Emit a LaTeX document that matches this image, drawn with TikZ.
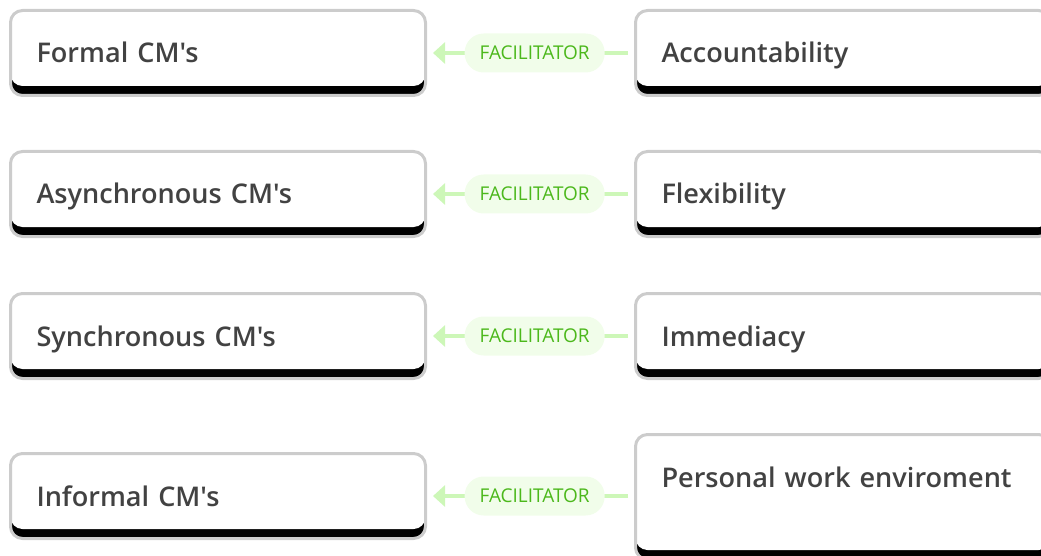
\documentclass[tikz,border=0pt]{standalone}
\usepackage{fontspec}
\setmainfont{Open Sans}
% semibold face for the card titles, with straight apostrophes
\IfFontExistsTF{Open Sans Semibold}
  {\newfontfamily\cardfont{Open Sans Semibold}}
  {\IfFontExistsTF{Fira Sans SemiBold}
    {\newfontfamily\cardfont{Fira Sans SemiBold}}
    {\newfontfamily\cardfontbase{Open Sans}\def\cardfont{\cardfontbase\bfseries}}}
\usetikzlibrary{arrows.meta}

\definecolor{cardborder}{HTML}{CCCCCC}
\definecolor{cardtext}{HTML}{424242}
\definecolor{linkline}{HTML}{CDF7B8}
\definecolor{pillfill}{HTML}{F1FDEA}
\definecolor{pilltext}{HTML}{4CB81C}

\tikzset{
  card/.style={
    draw=cardborder, line width=3pt, rounded corners=12pt,
    fill=black,
    minimum width=415pt, minimum height=85pt,
    text width=363pt, align=left, inner xsep=26pt, inner ysep=0pt,
    text height=26pt, text depth=6pt,
    text=cardtext, font=\cardfont\fontsize{27.1}{38}\selectfont,
    path picture={
      \fill[white] (path picture bounding box.north west)
        rectangle ([yshift=9.5pt]path picture bounding box.south east);
    }
  },
  % taller card whose title sits in its upper part
  tallcard/.style={card, minimum height=125pt, text depth=46pt},
  link/.style={
    draw=linkline, line width=4pt,
    -{Triangle[length=12pt,width=21pt]},
    shorten <=6pt, shorten >=6pt
  },
  pill/.style={
    fill=pillfill, rounded corners=19pt, draw=none,
    minimum height=39pt, minimum width=140pt, inner sep=0pt,
    text=pilltext, font=\fontsize{19}{22}\selectfont
  }
}

\begin{document}
\begin{tikzpicture}[x=1pt, y=-1pt]
  \useasboundingbox (0,0) rectangle (1041,556);
  \clip (0,0) rectangle (1041,556);

  % left column
  \node[card] (formal) at (218,53)   {Formal CM's};
  \node[card] (async)  at (218,194)  {Asynchronous CM's};
  \node[card] (sync)   at (218,336)  {Synchronous CM's};
  \node[card] (inform) at (218,496)  {Informal CM's};

  % right column
  \node[card]     (acc)  at (843,53)  {Accountability};
  \node[card]     (flex) at (843,194) {Flexibility};
  \node[card]     (imm)  at (843,336) {Immediacy};
  \node[tallcard] (pwe)  at (843,497) {Personal work enviroment};

  % links
  \draw[link] (acc.west)  -- (formal.east) node[pill, pos=0.48] {FACILITATOR};
  \draw[link] (flex.west) -- (async.east)  node[pill, pos=0.48] {FACILITATOR};
  \draw[link] (imm.west)  -- (sync.east)   node[pill, pos=0.48] {FACILITATOR};
  \draw[link] (pwe.west |- inform.east) -- (inform.east) node[pill, pos=0.48] {FACILITATOR};
\end{tikzpicture}
\end{document}
